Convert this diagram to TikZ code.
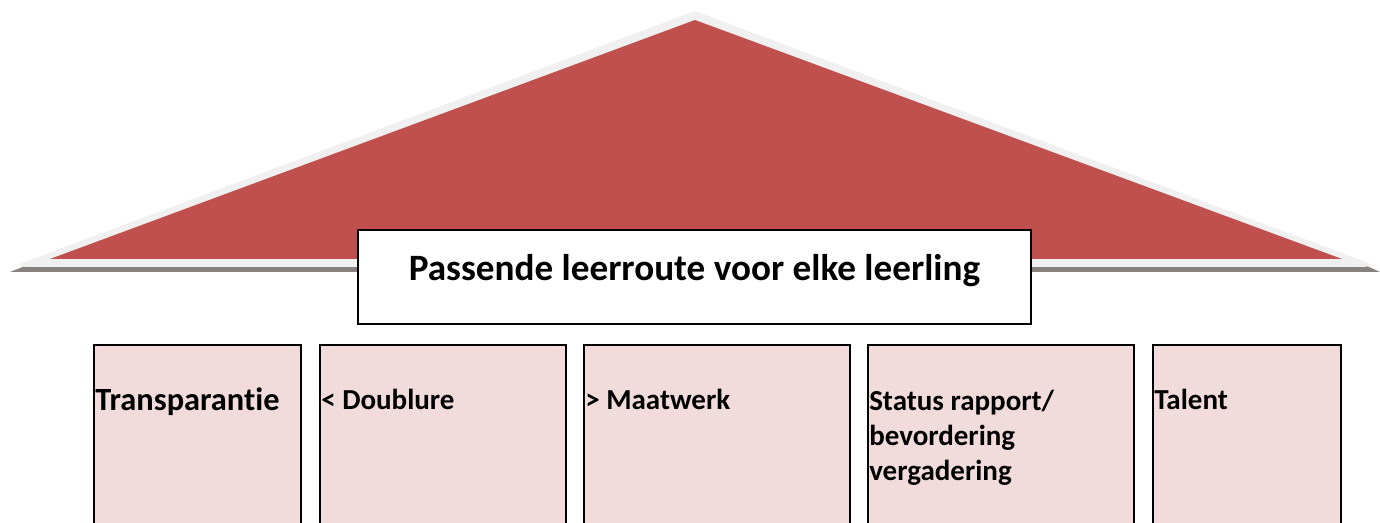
\documentclass[tikz,border=0pt]{standalone}
\usepackage{fontspec}
\setmainfont{Carlito}[Ligatures=NoCommon]
\usepackage{tikz}
\usepackage{xcolor}

\definecolor{roofred}{RGB}{192,80,77}
\definecolor{roofrim}{RGB}{240,240,240}
\definecolor{roofshade}{RGB}{135,130,128}
\definecolor{pillarpink}{RGB}{242,220,219}

\begin{document}
\begin{tikzpicture}[x=0.75pt,y=0.75pt,yscale=-1,xscale=1,
  pillar/.style={draw=black, line width=1.5pt, fill=pillarpink},
  pillartxt/.style={anchor=base west, inner sep=0pt, align=left, font=\fontsize{21.75}{26.25}\selectfont\bfseries},
  titletxt/.style={anchor=base, inner sep=0pt, font=\fontsize{27.9}{32}\selectfont\bfseries}]
\clip (0,0) rectangle (1380,523);

%Shape: Roof shadow
\fill [roofshade] (10,272) -- (24,266.5) -- (1368,266.5) -- (1380,272) -- cycle ;
%Shape: Roof rim
\fill [roofrim, rounded corners=2] (24,267) -- (19,264) -- (695,11) -- (1371,264) -- (1366,267) -- cycle ;
%Shape: Roof
\fill [roofred] (50,259) -- (695,20) -- (1342,259) -- cycle ;

%Shape: Title box
\draw [fill=white, line width=1.5pt] (358,230) rectangle (1031,324) ;
% Text Node
\draw (694.5,281) node (title) [titletxt] {Passende leerroute voor elke leerling};

%Shape: Pillars
\draw [pillar] (94,345) rectangle (301,530) ;
\draw [pillar] (320,345) rectangle (566,530) ;
\draw [pillar] (584,345) rectangle (850,530) ;
\draw [pillar] (868,345) rectangle (1134,530) ;
\draw [pillar] (1153,345) rectangle (1341,530) ;

% Text Node
\draw (95,411) node (transp) [pillartxt, font=\fontsize{24.3}{29}\selectfont\bfseries] {Transparantie};
% Text Node
\draw (321,410) node (doubl) [pillartxt] {< Doublure};
% Text Node
\draw (585,410) node (maatw) [pillartxt] {> Maatwerk};
% Text Node
\draw (869,480) node (status) [pillartxt] {Status rapport/\\bevordering\\vergadering};
% Text Node
\draw (1154,410) node (talent) [pillartxt] {Talent};

\end{tikzpicture}
\end{document}
